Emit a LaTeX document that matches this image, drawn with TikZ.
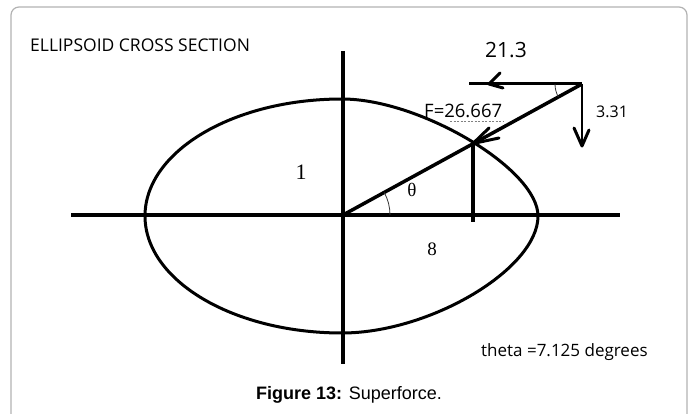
\documentclass[tikz,border=0pt]{standalone}
\usepackage{fontspec}
\newfontfamily\opens{Open Sans}
\newfontfamily\lsans{Liberation Sans}
\newfontfamily\lserif{Liberation Serif}
\begin{document}
\begin{tikzpicture}[x=1pt,y=-1pt,
  axis/.style={line width=4pt},
  thickline/.style={line width=3.5pt},
  barb/.style={line width=3pt, line cap=round},
  thinarc/.style={line width=0.8pt, black!80},
  lbl/.style={inner sep=0pt, text=black}]
\useasboundingbox (0,0) rectangle (696,414);
% frame
\draw[black!30, line width=1.2pt, rounded corners=8pt] (11,440) -- (11,7) -- (687,7) -- (687,440);
% key points
\coordinate (O) at (343,215);
\coordinate (T) at (582,84);
\coordinate (P) at (473,143.5);
\coordinate (L) at (71,215);
\coordinate (R) at (620,215);
\coordinate (U) at (343,51);
\coordinate (D) at (343,364);
\coordinate (Pfoot) at (473,222);
\coordinate (H) at (469,84);
\coordinate (V) at (582,146);
% ellipse (hand drawn, flatter on the upper right)
\draw[line width=3pt] (145,216)
  .. controls (145,151.4) and (233.3,99) .. (342,99)
  .. controls (420.4,99) and (538,169.2) .. (538,216)
  .. controls (538,268.7) and (430.2,333) .. (342,333)
  .. controls (233.3,333) and (145,280.6) .. cycle;
% axes
\draw[axis] (L) -- (R);
\draw[axis] (U) -- (D);
% radius line
\draw[thickline] (O) -- (T);
\draw[axis] (P) -- (Pfoot);
% arrowhead at P
\draw[barb] (P) -- (489,128);
\draw[barb] (P) -- (499,138);
% horizontal arrow
\draw[line width=3pt] (T) -- (H);
\draw[barb] (489,84) -- (500,73);
\draw[barb] (489,84) -- (503,88);
% vertical arrow
\draw[line width=2.5pt] (T) -- (V);
\draw[barb] (V) -- (574,128);
\draw[barb] (V) -- (589,130);
% angle arcs
\draw[thinarc] (O) ++(0:47) arc[start angle=0, end angle=-28.7, radius=47];
\draw[thinarc] (T) ++(180:27) arc[start angle=180, end angle=151.3, radius=27];
% labels
\node[lbl, anchor=base west, font=\opens\fontsize{17.5}{20}\selectfont] (title) at (30,52) {ELLIPSOID CROSS SECTION};
\node[lbl, anchor=base, font=\opens\fontsize{21}{24}\selectfont] (fh) at (506,58) {21.3};
\node[lbl, anchor=base west, font=\opens\fontsize{18.5}{21}\selectfont] (fF) at (424,118) {F=26.667};
\draw[black!50, line width=0.6pt, dash pattern=on 2pt off 1.5pt] (450,121) -- (503,121);
\node[lbl, anchor=base west, font=\opens\fontsize{16}{19}\selectfont] (fv) at (596,118) {3.31};
\node[lbl, anchor=base, font=\lserif\fontsize{22}{24}\selectfont] (one) at (301,180) {1};
\node[lbl, anchor=base, font=\lserif\fontsize{19}{22}\selectfont] (eight) at (432,255) {8};
\node[lbl, anchor=base, font=\lserif\fontsize{19}{22}\selectfont] (th) at (412,197) {θ};
\node[lbl, anchor=base west, font=\opens\fontsize{17}{20}\selectfont] (thv) at (481,356) {theta =7.125 degrees};
\node[lbl, anchor=base, font=\lsans\fontsize{18}{21}\selectfont] (cap) at (349,399) {\textbf{Figure 13:} Superforce.};
\end{tikzpicture}
\end{document}
